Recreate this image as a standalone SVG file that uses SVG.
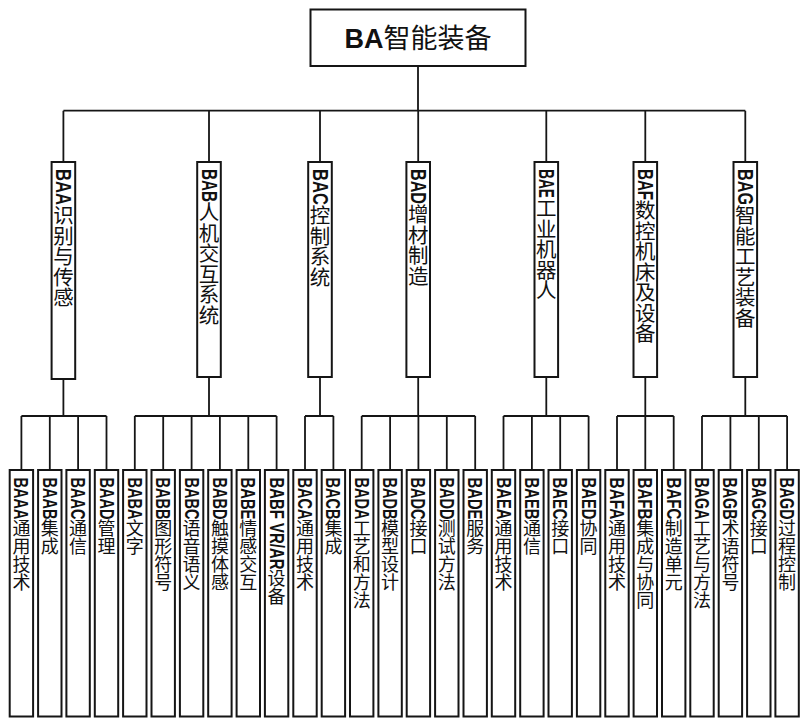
<svg xmlns="http://www.w3.org/2000/svg" width="808" height="727" viewBox="0 0 808 727">
<style>
.box{fill:#fff;stroke:#151515;stroke-width:2}
.ln{fill:none;stroke:#151515;stroke-width:1.8}
.v{writing-mode:vertical-rl;font-family:"Noto Sans CJK SC","Noto Sans",sans-serif;fill:#111}
.lat{font-family:"Liberation Sans",Arial,sans-serif;font-weight:bold}
.mid{font-size:20.5px}
.mid .lat{font-size:22.5px}
.leaf{font-size:18px}
.leaf .lat{font-size:19.5px}
.top{font-family:"Noto Sans CJK SC",sans-serif;font-size:27px;fill:#111}
</style>
<rect width="808" height="727" fill="#fff"/>
<g id="connectors">
<path class="ln" d="M418,66V110.7M63.4,110.7H745.3M63.4,110.7V162M209,110.7V162M320,110.7V162M418.2,110.7V162M546.3,110.7V162M645.3,110.7V162M745.3,110.7V162"/>
<path class="ln" d="M63.4,379V416M21.4,416H106.5M21.4,416V470M49.8,416V470M78.1,416V470M106.5,416V470"/>
<path class="ln" d="M209,377V416M134.8,416H276.6M134.8,416V470M163.2,416V470M191.6,416V470M219.9,416V470M248.3,416V470M276.6,416V470"/>
<path class="ln" d="M320,377V416M305,416H333.4M305,416V470M333.4,416V470"/>
<path class="ln" d="M418.2,377V416M361.7,416H475.2M361.7,416V470M390.1,416V470M418.4,416V470M446.8,416V470M475.2,416V470"/>
<path class="ln" d="M546.3,377V416M503.5,416H588.6M503.5,416V470M531.9,416V470M560.2,416V470M588.6,416V470"/>
<path class="ln" d="M645.3,377V416M617,416H673.7M617,416V470M645.3,416V470M673.7,416V470"/>
<path class="ln" d="M745.3,377V416M702,416H787.1M702,416V470M730.4,416V470M758.8,416V470M787.1,416V470"/>
</g>
<g id="BA">
<rect class="box" x="310.5" y="9.5" width="215" height="56.5"/>
<text class="top" x="418" y="47.5" text-anchor="middle"><tspan class="lat" font-size="27">BA</tspan>智能装备</text>
</g>
<g id="BAA"><rect class="box" x="51.6" y="162" width="23.6" height="217"/><text class="v mid" x="63.4" y="169"><tspan class="lat" textLength="36" lengthAdjust="spacingAndGlyphs">BAA</tspan>识别与传感</text></g>
<g id="BAB"><rect class="box" x="197.2" y="162" width="23.6" height="215"/><text class="v mid" x="209" y="169"><tspan class="lat" textLength="33" lengthAdjust="spacingAndGlyphs">BAB</tspan>人机交互系统</text></g>
<g id="BAC"><rect class="box" x="308.2" y="162" width="23.6" height="215"/><text class="v mid" x="320" y="169"><tspan class="lat" textLength="36" lengthAdjust="spacingAndGlyphs">BAC</tspan>控制系统</text></g>
<g id="BAD"><rect class="box" x="406.4" y="162" width="23.6" height="215"/><text class="v mid" x="418.2" y="169"><tspan class="lat" textLength="35" lengthAdjust="spacingAndGlyphs">BAD</tspan>增材制造</text></g>
<g id="BAE"><rect class="box" x="534.5" y="162" width="23.6" height="215"/><text class="v mid" x="546.3" y="169"><tspan class="lat" textLength="29" lengthAdjust="spacingAndGlyphs">BAE</tspan>工业机器人</text></g>
<g id="BAF"><rect class="box" x="633.5" y="162" width="23.6" height="215"/><text class="v mid" x="645.3" y="169"><tspan class="lat" textLength="31" lengthAdjust="spacingAndGlyphs">BAF</tspan>数控机床及设备</text></g>
<g id="BAG"><rect class="box" x="733.5" y="162" width="23.6" height="215"/><text class="v mid" x="745.3" y="169"><tspan class="lat" textLength="36" lengthAdjust="spacingAndGlyphs">BAG</tspan>智能工艺装备</text></g>
<g id="BAAA"><rect class="box" x="9.7" y="470" width="23.4" height="246.5"/><text class="v leaf" x="21.4" y="477.5"><tspan class="lat" textLength="42" lengthAdjust="spacingAndGlyphs">BAAA</tspan>通用技术</text></g>
<g id="BAAB"><rect class="box" x="38.1" y="470" width="23.4" height="246.5"/><text class="v leaf" x="49.8" y="477.5"><tspan class="lat" textLength="42" lengthAdjust="spacingAndGlyphs">BAAB</tspan>集成</text></g>
<g id="BAAC"><rect class="box" x="66.4" y="470" width="23.4" height="246.5"/><text class="v leaf" x="78.1" y="477.5"><tspan class="lat" textLength="42" lengthAdjust="spacingAndGlyphs">BAAC</tspan>通信</text></g>
<g id="BAAD"><rect class="box" x="94.8" y="470" width="23.4" height="246.5"/><text class="v leaf" x="106.5" y="477.5"><tspan class="lat" textLength="42" lengthAdjust="spacingAndGlyphs">BAAD</tspan>管理</text></g>
<g id="BABA"><rect class="box" x="123.1" y="470" width="23.4" height="246.5"/><text class="v leaf" x="134.8" y="477.5"><tspan class="lat" textLength="42" lengthAdjust="spacingAndGlyphs">BABA</tspan>文字</text></g>
<g id="BABB"><rect class="box" x="151.5" y="470" width="23.4" height="246.5"/><text class="v leaf" x="163.2" y="477.5"><tspan class="lat" textLength="42" lengthAdjust="spacingAndGlyphs">BABB</tspan>图形符号</text></g>
<g id="BABC"><rect class="box" x="179.9" y="470" width="23.4" height="246.5"/><text class="v leaf" x="191.6" y="477.5"><tspan class="lat" textLength="42" lengthAdjust="spacingAndGlyphs">BABC</tspan>语音语义</text></g>
<g id="BABD"><rect class="box" x="208.2" y="470" width="23.4" height="246.5"/><text class="v leaf" x="219.9" y="477.5"><tspan class="lat" textLength="42" lengthAdjust="spacingAndGlyphs">BABD</tspan>触摸体感</text></g>
<g id="BABE"><rect class="box" x="236.6" y="470" width="23.4" height="246.5"/><text class="v leaf" x="248.3" y="477.5"><tspan class="lat" textLength="42" lengthAdjust="spacingAndGlyphs">BABE</tspan>情感交互</text></g>
<g id="BABF"><rect class="box" x="264.9" y="470" width="23.4" height="246.5"/><text class="v leaf" x="276.6" y="477.5"><tspan class="lat" textLength="92" lengthAdjust="spacingAndGlyphs">BABF VR/AR</tspan>设备</text></g>
<g id="BACA"><rect class="box" x="293.3" y="470" width="23.4" height="246.5"/><text class="v leaf" x="305" y="477.5"><tspan class="lat" textLength="42" lengthAdjust="spacingAndGlyphs">BACA</tspan>通用技术</text></g>
<g id="BACB"><rect class="box" x="321.7" y="470" width="23.4" height="246.5"/><text class="v leaf" x="333.4" y="477.5"><tspan class="lat" textLength="42" lengthAdjust="spacingAndGlyphs">BACB</tspan>集成</text></g>
<g id="BADA"><rect class="box" x="350" y="470" width="23.4" height="246.5"/><text class="v leaf" x="361.7" y="477.5"><tspan class="lat" textLength="42" lengthAdjust="spacingAndGlyphs">BADA</tspan>工艺和方法</text></g>
<g id="BADB"><rect class="box" x="378.4" y="470" width="23.4" height="246.5"/><text class="v leaf" x="390.1" y="477.5"><tspan class="lat" textLength="42" lengthAdjust="spacingAndGlyphs">BADB</tspan>模型设计</text></g>
<g id="BADC"><rect class="box" x="406.7" y="470" width="23.4" height="246.5"/><text class="v leaf" x="418.4" y="477.5"><tspan class="lat" textLength="42" lengthAdjust="spacingAndGlyphs">BADC</tspan>接口</text></g>
<g id="BADD"><rect class="box" x="435.1" y="470" width="23.4" height="246.5"/><text class="v leaf" x="446.8" y="477.5"><tspan class="lat" textLength="42" lengthAdjust="spacingAndGlyphs">BADD</tspan>测试方法</text></g>
<g id="BADE"><rect class="box" x="463.5" y="470" width="23.4" height="246.5"/><text class="v leaf" x="475.2" y="477.5"><tspan class="lat" textLength="42" lengthAdjust="spacingAndGlyphs">BADE</tspan>服务</text></g>
<g id="BAEA"><rect class="box" x="491.8" y="470" width="23.4" height="246.5"/><text class="v leaf" x="503.5" y="477.5"><tspan class="lat" textLength="42" lengthAdjust="spacingAndGlyphs">BAEA</tspan>通用技术</text></g>
<g id="BAEB"><rect class="box" x="520.2" y="470" width="23.4" height="246.5"/><text class="v leaf" x="531.9" y="477.5"><tspan class="lat" textLength="42" lengthAdjust="spacingAndGlyphs">BAEB</tspan>通信</text></g>
<g id="BAEC"><rect class="box" x="548.5" y="470" width="23.4" height="246.5"/><text class="v leaf" x="560.2" y="477.5"><tspan class="lat" textLength="42" lengthAdjust="spacingAndGlyphs">BAEC</tspan>接口</text></g>
<g id="BAED"><rect class="box" x="576.9" y="470" width="23.4" height="246.5"/><text class="v leaf" x="588.6" y="477.5"><tspan class="lat" textLength="42" lengthAdjust="spacingAndGlyphs">BAED</tspan>协同</text></g>
<g id="BAFA"><rect class="box" x="605.3" y="470" width="23.4" height="246.5"/><text class="v leaf" x="617" y="477.5"><tspan class="lat" textLength="42" lengthAdjust="spacingAndGlyphs">BAFA</tspan>通用技术</text></g>
<g id="BAFB"><rect class="box" x="633.6" y="470" width="23.4" height="246.5"/><text class="v leaf" x="645.3" y="477.5"><tspan class="lat" textLength="42" lengthAdjust="spacingAndGlyphs">BAFB</tspan>集成与协同</text></g>
<g id="BAFC"><rect class="box" x="662" y="470" width="23.4" height="246.5"/><text class="v leaf" x="673.7" y="477.5"><tspan class="lat" textLength="42" lengthAdjust="spacingAndGlyphs">BAFC</tspan>制造单元</text></g>
<g id="BAGA"><rect class="box" x="690.3" y="470" width="23.4" height="246.5"/><text class="v leaf" x="702" y="477.5"><tspan class="lat" textLength="42" lengthAdjust="spacingAndGlyphs">BAGA</tspan>工艺与方法</text></g>
<g id="BAGB"><rect class="box" x="718.7" y="470" width="23.4" height="246.5"/><text class="v leaf" x="730.4" y="477.5"><tspan class="lat" textLength="42" lengthAdjust="spacingAndGlyphs">BAGB</tspan>术语符号</text></g>
<g id="BAGC"><rect class="box" x="747.1" y="470" width="23.4" height="246.5"/><text class="v leaf" x="758.8" y="477.5"><tspan class="lat" textLength="42" lengthAdjust="spacingAndGlyphs">BAGC</tspan>接口</text></g>
<g id="BAGD"><rect class="box" x="775.4" y="470" width="23.4" height="246.5"/><text class="v leaf" x="787.1" y="477.5"><tspan class="lat" textLength="42" lengthAdjust="spacingAndGlyphs">BAGD</tspan>过程控制</text></g>
</svg>
